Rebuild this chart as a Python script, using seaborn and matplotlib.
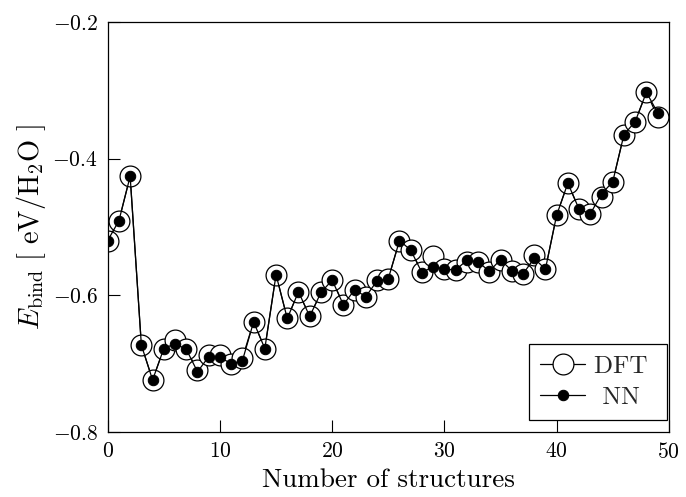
import numpy as np
import pandas as pd
import matplotlib
matplotlib.use("Agg")
import matplotlib.pyplot as plt
import seaborn as sns

structures = list(range(50))
dft = [-0.520, -0.491, -0.426, -0.673, -0.724, -0.678, -0.665, -0.679, -0.710, -0.688,
       -0.688, -0.700, -0.692, -0.639, -0.678, -0.570, -0.634, -0.595, -0.631, -0.596,
       -0.577, -0.614, -0.592, -0.602, -0.577, -0.576, -0.520, -0.534, -0.566, -0.542,
       -0.562, -0.563, -0.551, -0.551, -0.566, -0.548, -0.564, -0.569, -0.541, -0.562,
       -0.483, -0.436, -0.474, -0.481, -0.457, -0.434, -0.365, -0.346, -0.303, -0.339]
nn = [-0.520, -0.491, -0.426, -0.673, -0.724, -0.678, -0.671, -0.679, -0.712, -0.690,
      -0.691, -0.700, -0.696, -0.639, -0.678, -0.570, -0.634, -0.595, -0.631, -0.596,
      -0.578, -0.614, -0.592, -0.602, -0.579, -0.576, -0.520, -0.534, -0.567, -0.558,
      -0.562, -0.563, -0.549, -0.551, -0.565, -0.548, -0.564, -0.569, -0.546, -0.562,
      -0.483, -0.436, -0.474, -0.481, -0.452, -0.434, -0.365, -0.346, -0.303, -0.333]

df = pd.DataFrame({"x": structures, "DFT": dft, "NN": nn})

sns.set_theme(style="white")
plt.rcParams["font.family"] = "serif"
plt.rcParams["font.serif"] = ["cmr10"]
plt.rcParams["mathtext.fontset"] = "cm"
plt.rcParams["axes.formatter.use_mathtext"] = True
plt.rcParams["axes.unicode_minus"] = True

fig = plt.figure(figsize=(6.86, 4.97), dpi=100)
ax = fig.add_axes([0.157, 0.131, 0.818, 0.825])

sns.lineplot(data=df, x="x", y="DFT", ax=ax, color="black", lw=0.9,
             marker="o", markersize=15, markerfacecolor="white",
             markeredgecolor="black", markeredgewidth=0.9, label="DFT", zorder=2)
sns.lineplot(data=df, x="x", y="NN", ax=ax, color="black", lw=0.9,
             marker="o", markersize=7.5, markerfacecolor="black",
             markeredgecolor="black", label="NN", zorder=3)

ax.set_xlim(0, 50)
ax.set_ylim(-0.8, -0.2)
ax.set_xticks([0, 10, 20, 30, 40, 50])
ax.set_yticks([-0.8, -0.6, -0.4, -0.2])
ax.tick_params(direction="in", length=8.5, width=0.8, labelsize=15.5,
               bottom=True, left=True, top=False, right=False, pad=7,
               colors="black")
for s in ax.spines.values():
    s.set_color("black")
    s.set_linewidth(0.9)

ax.set_xlabel("Number of structures", fontsize=19.5, color="black", labelpad=5)
ax.set_ylabel(r"$E_{\rm bind}\ [\ {\rm eV/H_2O}\ ]$", fontsize=20.5, color="black",
              labelpad=3)

handles, _ = ax.get_legend_handles_labels()
leg = ax.legend(handles, ["DFT ", " NN"], loc="lower right",
                bbox_to_anchor=(0.997, 0.028), fontsize=18,
                frameon=True, fancybox=False, edgecolor="black", framealpha=1,
                handlelength=1.8, borderpad=0.45, labelspacing=0.35,
                handletextpad=0.35, borderaxespad=0)
leg.get_frame().set_linewidth(0.9)

fig.savefig("out.png", dpi=100)
